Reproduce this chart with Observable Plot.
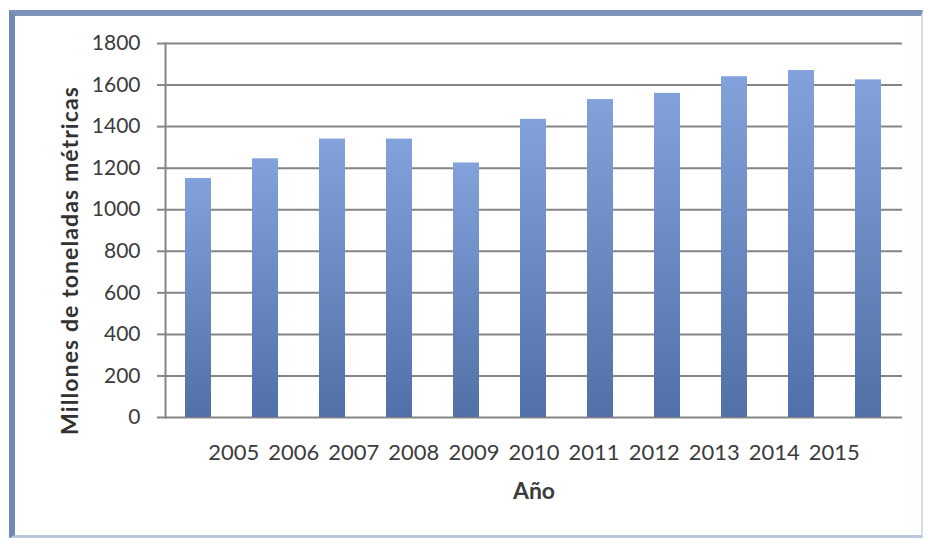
<!DOCTYPE html>
<html>
<head>
<meta charset="utf-8">
<script src="https://cdn.jsdelivr.net/npm/d3@7"></script>
<script src="https://cdn.jsdelivr.net/npm/@observablehq/plot@0.6"></script>
<style>
  html, body { margin: 0; padding: 0; background: #fff; }
  #wrap { position: relative; width: 927px; height: 540px; overflow: hidden; }
  #box {
    position: absolute; left: 9px; top: 10px; width: 914px; height: 528px;
    box-sizing: border-box;
    border-left: 6px solid #7189b3; border-top: 6px solid #7c93ba;
    border-right: 2px solid #d3ddec; border-bottom: 3px solid #b9c7dc;
  }
  #chart { position: absolute; left: 0; top: 0; }
  #chart svg { font-family: Lato, "Open Sans", sans-serif; }
</style>
</head>
<body>
<div id="wrap"><div id="box"></div><div id="chart"></div></div>
<script>
// Producción anual (millones de toneladas métricas)
const years = ["2005", "2006", "2007", "2008", "2009", "2010", "2011", "2012", "2013", "2014", "2015"];
const values = [1150, 1245, 1340, 1340, 1225, 1435, 1530, 1560, 1640, 1670, 1625];
const yTicks = [0, 200, 400, 600, 800, 1000, 1200, 1400, 1600, 1800];
const yTitle = "Millones de toneladas métricas";
const xTitle = "Año";

const rows = years.map((year, i) => ({year, value: values[i]}));
const yearLine = years.join(" ");

// vertical gradient applied to each bar (lighter top, darker bottom)
const gradient = () => {
  const defs = d3.create("svg:defs");
  const g = defs.append("linearGradient")
    .attr("id", "barFill").attr("x1", 0).attr("y1", 0).attr("x2", 0).attr("y2", 1);
  g.append("stop").attr("offset", "0%").attr("stop-color", "#83a2db");
  g.append("stop").attr("offset", "100%").attr("stop-color", "#5170a8");
  return defs.node();
};

const chart = Plot.plot({
  width: 927,
  height: 540,
  marginLeft: 165,
  marginRight: 25,
  marginTop: 43,
  marginBottom: 123,
  style: {background: "transparent", color: "#404040"},
  x: {domain: years, paddingInner: 0.61, paddingOuter: 0.305, axis: null},
  y: {domain: [0, 1800], axis: null},
  marks: [
    gradient,
    Plot.gridY(yTicks, {stroke: "#858585", strokeOpacity: 1, strokeWidth: 2}),
    Plot.axisY(yTicks, {
      tickSize: 8, tickPadding: 17, fontSize: 21, stroke: "#858585", strokeWidth: 2,
      fill: "#3c3c3c", label: null, tickFormat: d => String(d)
    }),
    Plot.frame({anchor: "left", stroke: "#858585", strokeWidth: 2}),
    Plot.barY(rows, {x: "year", y: "value", fill: "url(#barFill)"}),
    // year labels set as one running line under the bars
    Plot.text([yearLine], {
      text: d => d, frameAnchor: "bottom", dy: 42, fontSize: 22, fill: "#3c3c3c",
      textAnchor: "middle"
    }),
    Plot.text([xTitle], {
      text: d => d, frameAnchor: "bottom", dy: 81, fontSize: 23, fontWeight: "bold",
      fill: "#3c3c3c", textAnchor: "middle"
    }),
    Plot.text([yTitle], {
      text: d => d, frameAnchor: "left", dx: -95, dy: 30, rotate: -90,
      fontSize: 23, fontWeight: "bold", fill: "#333333", textAnchor: "middle"
    })
  ]
});

document.getElementById("chart").appendChild(chart);
// spacing tweaks for the year line and the rotated title
const svg = d3.select(chart);
svg.selectAll("text").filter(function () { return this.textContent === yearLine; })
  .style("word-spacing", "3.4px");
svg.selectAll("text").filter(function () { return this.textContent === yTitle; })
  .style("letter-spacing", "1.1px");
</script>
</body>
</html>
